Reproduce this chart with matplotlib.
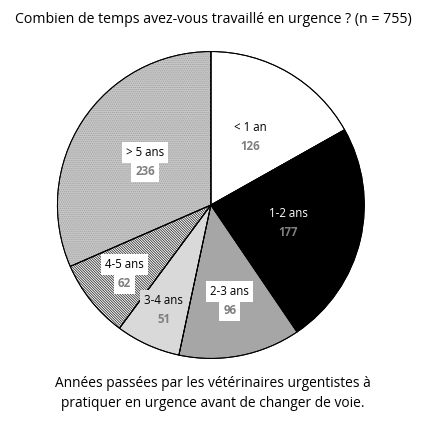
import matplotlib
matplotlib.use('Agg')
from matplotlib import pyplot as plt
from matplotlib.patches import Wedge
import numpy as np

plt.rcParams['font.family'] = ['Open Sans', 'DejaVu Sans']
plt.rcParams['hatch.linewidth'] = 0.6

categories = ['< 1 an', '1-2 ans', '2-3 ans', '3-4 ans', '4-5 ans', '> 5 ans']
valeurs = [126, 177, 96, 51, 62, 236]

couleurs = ['white', 'black', '#a6a6a6', '#d9d9d9', 'white', '#c8c8c8']
hachures = [None, None, None, None, '\\' * 13, '.' * 8]
couleur_hachure = [None, None, None, None, '#333333', '#a0a0a0']
rayon_label = [0.51, 0.52, 0.64, 0.75, 0.72, 0.51]
fond_label = [None, None, 'white', '#d9d9d9', 'white', 'white']
couleur_nom = ['black', 'white', 'black', 'black', 'black', 'black']

fig = plt.figure(figsize=(4.26, 4.24), dpi=100)
ax = fig.add_axes([0.131, 0.151, 0.728, 0.731])

wedges, _ = ax.pie(valeurs, colors=couleurs, startangle=90, counterclock=False,
                   wedgeprops=dict(edgecolor='black', linewidth=0.7))

# motifs (hachures) par-dessus
for w, h, hc in zip(wedges, hachures, couleur_hachure):
    if h:
        ax.add_patch(Wedge(w.center, w.r, w.theta1, w.theta2, fill=False,
                           hatch=h, edgecolor=hc, linewidth=0))
for w in wedges:
    ax.add_patch(Wedge(w.center, w.r, w.theta1, w.theta2, fill=False,
                       edgecolor='black', linewidth=0.7))

for w, nom, val, r, bg, c in zip(wedges, categories, valeurs, rayon_label, fond_label, couleur_nom):
    a = np.deg2rad((w.theta1 + w.theta2) / 2)
    x, y = r * np.cos(a), r * np.sin(a)
    if bg:
        box1 = dict(boxstyle='square,pad=0.35', fc=bg, ec='none')
        box2 = dict(boxstyle='square,pad=0.35', fc=bg, ec='none')
    else:
        box1 = box2 = None
    ax.text(x, y + 0.062, nom, ha='center', va='center', fontsize=8.3,
            color=c, bbox=box1)
    ax.text(x, y - 0.062, str(val), ha='center', va='center', fontsize=8.3,
            color='#7f7f7f', fontweight='bold', bbox=box2)

ax.set_xlim(-1.01, 1.01)
ax.set_ylim(-1.01, 1.01)

fig.text(0.5, 0.953, 'Combien de temps avez-vous travaillé en urgence ? (n = 755)',
         ha='center', va='center', fontsize=10.2)
fig.text(0.5, 0.072, 'Années passées par les vétérinaires urgentistes à\npratiquer en urgence avant de changer de voie.',
         ha='center', va='center', fontsize=9.9, linespacing=1.5)

plt.savefig('out.png', dpi=100)
